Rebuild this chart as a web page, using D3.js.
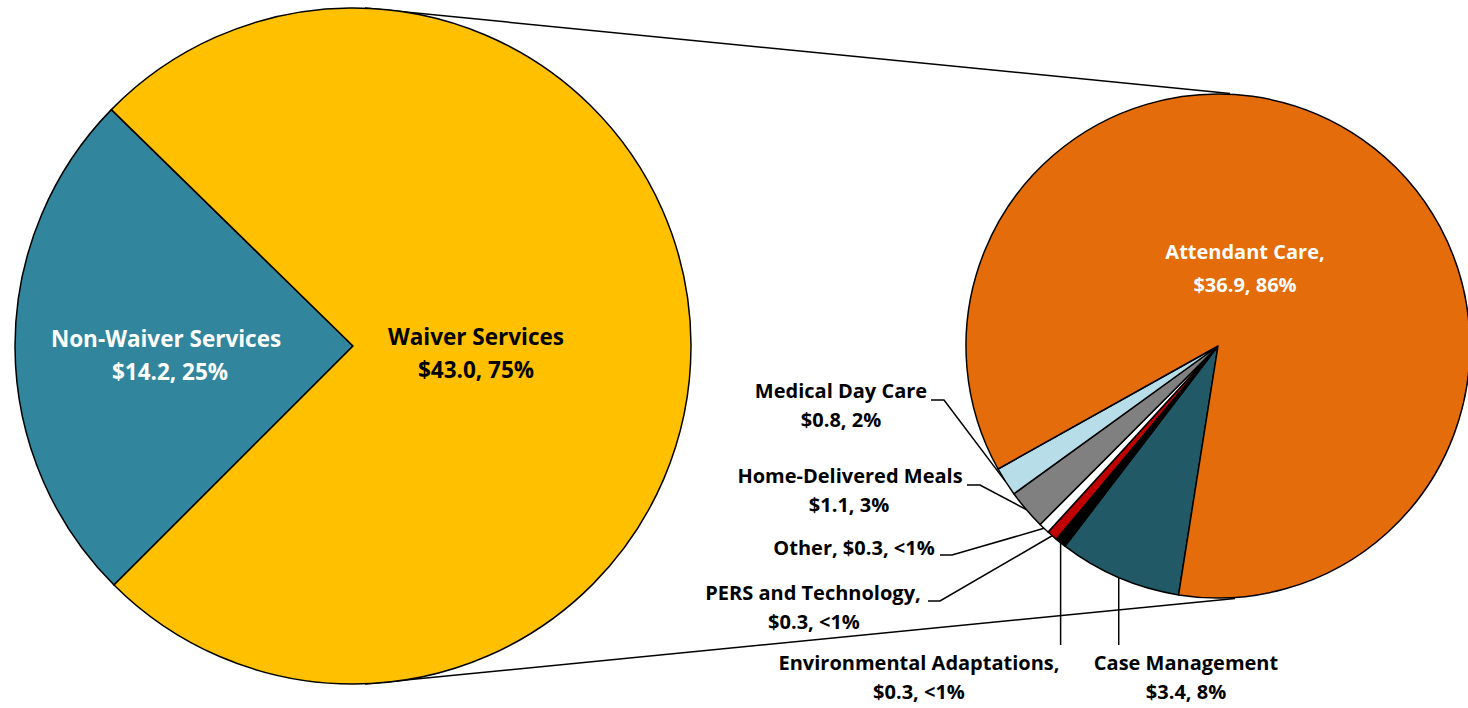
<!DOCTYPE html>
<html>
<head>
<meta charset="utf-8">
<script src="https://cdn.jsdelivr.net/npm/d3@7"></script>
<style>
  html, body { margin: 0; padding: 0; background: #fff; }
  svg { display: block; }
  text { font-family: "Open Sans", Lato, sans-serif; font-weight: bold; }
</style>
</head>
<body>
<svg id="chart" width="1468" height="708"></svg>
<script>
// ---- Data ----
const mainCategories = ["Non-Waiver Services", "Waiver Services"];
const mainValues = [14.2, 43.0];
const mainPercents = ["25%", "75%"];

const waiverCategories = ["Case Management", "Environmental Adaptations", "PERS and Technology", "Other", "Home-Delivered Meals", "Medical Day Care", "Attendant Care"];
const waiverValues = [3.4, 0.3, 0.3, 0.3, 1.1, 0.8, 36.9];
const waiverPercents = ["8%", "<1%", "<1%", "<1%", "3%", "2%", "86%"];

// ---- Styles / layout ----
const mainColors = ["#31859C", "#FFC000"];
const waiverColors = ["#215967", "#000000", "#C00000", "#FFFFFF", "#808080", "#B7DEE8", "#E46C0A"];

const svg = d3.select("#chart");
const fmt = v => "$" + d3.format(".1f")(v);

const left = { cx: 353, cy: 346, r: 338, start: 225 };
const right = { cx: 1218, cy: 346, r: 252, start: 189 };
const rad = d => d * Math.PI / 180;

// connector lines (drawn first, behind pies)
const conn = svg.append("g").attr("stroke", "#000").attr("stroke-width", 1.5).attr("fill", "none");
conn.append("line").attr("x1", left.cx + 12).attr("y1", left.cy - left.r).attr("x2", right.cx + 12).attr("y2", right.cy - right.r - 0.5);
conn.append("line").attr("x1", left.cx + 12).attr("y1", left.cy + left.r).attr("x2", right.cx + 17).attr("y2", right.cy + right.r + 0.5);

// ---- Left pie ----
const pieL = d3.pie().sort(null).startAngle(rad(left.start)).endAngle(rad(left.start + 360));
const arcL = d3.arc().innerRadius(0).outerRadius(left.r);
const gL = svg.append("g").attr("transform", `translate(${left.cx},${left.cy})`);
gL.selectAll("path").data(pieL(mainValues)).join("path")
  .attr("d", arcL)
  .attr("fill", (d, i) => mainColors[i])
  .attr("stroke", "#000").attr("stroke-width", 1.5).attr("stroke-linejoin", "round");

// ---- Right pie ----
const pieR = d3.pie().sort(null).startAngle(rad(right.start)).endAngle(rad(right.start + 360));
const arcR = d3.arc().innerRadius(0).outerRadius(right.r);
const gR = svg.append("g").attr("transform", `translate(${right.cx},${right.cy})`);
const arcsR = pieR(waiverValues);
gR.selectAll("path").data(arcsR).join("path")
  .attr("d", arcR)
  .attr("fill", (d, i) => waiverColors[i])
  .attr("stroke", "#000").attr("stroke-width", 1.5).attr("stroke-linejoin", "round");

// ---- Main labels ----
function twoLine(xs, y1, lines, color, size, gap) {
  const t = svg.append("text").attr("text-anchor", "middle").attr("fill", color).attr("font-size", size);
  lines.forEach((s, i) => t.append("tspan").attr("x", xs[i]).attr("y", y1 + i * gap).text(s));
}
twoLine([166, 170], 347, [mainCategories[0], fmt(mainValues[0]) + ", " + mainPercents[0]], "#fff", 22.5, 33);
twoLine([476, 476], 345, [mainCategories[1], fmt(mainValues[1]) + ", " + mainPercents[1]], "#000", 22.5, 33);
twoLine([1245, 1245], 259, [waiverCategories[6] + ",", fmt(waiverValues[6]) + ", " + waiverPercents[6]], "#fff", 20, 33);

// ---- Small slice labels with leader lines ----
const labelLayout = [
  { i: 5, xs: [841, 841], y: 398, text: [waiverCategories[5], fmt(waiverValues[5]) + ", " + waiverPercents[5]], tick: [931, 944, 400] },
  { i: 4, xs: [850, 849], y: 483, text: [waiverCategories[4], fmt(waiverValues[4]) + ", " + waiverPercents[4]], tick: [967, 980, 485] },
  { i: 3, xs: [854], y: 555, text: [waiverCategories[3] + ", " + fmt(waiverValues[3]) + ", " + waiverPercents[3]], tick: [940, 952, 555] },
  { i: 2, xs: [813, 814], y: 600, text: [waiverCategories[2] + ",", fmt(waiverValues[2]) + ", " + waiverPercents[2]], tick: [928, 940, 601] },
  { i: 1, xs: [919, 919], y: 670, text: [waiverCategories[1] + ",", fmt(waiverValues[1]) + ", " + waiverPercents[1]], vert: 645 },
  { i: 0, xs: [1186, 1186], y: 670, text: [waiverCategories[0], fmt(waiverValues[0]) + ", " + waiverPercents[0]], vert: 645 }
];

const leaders = svg.append("g").attr("stroke", "#000").attr("stroke-width", 1.5).attr("fill", "none");
labelLayout.forEach(L => {
  const a = arcsR[L.i];
  const mid = (a.startAngle + a.endAngle) / 2;
  const px = right.cx + right.r * Math.sin(mid);
  const py = right.cy - right.r * Math.cos(mid);
  if (L.vert) {
    leaders.append("path").attr("d", `M${px},${py}V${L.vert}`);
  } else {
    leaders.append("path").attr("d", `M${px},${py}L${L.tick[1]},${L.tick[2]}H${L.tick[0]}`);
  }
  const t = svg.append("text").attr("text-anchor", "middle").attr("fill", "#000").attr("font-size", 20);
  L.text.forEach((s, k) => t.append("tspan").attr("x", L.xs[k]).attr("y", L.y + k * 29).text(s));
});
</script>
</body>
</html>
